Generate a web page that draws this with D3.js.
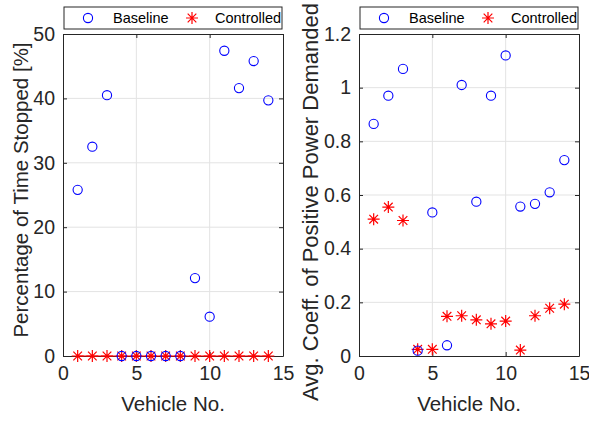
<!DOCTYPE html>
<html>
<head>
<meta charset="utf8">
<script src="https://d3js.org/d3.v7.min.js"></script>
<style>
  body { margin: 0; background: #fff; }
  text { font-family: "Liberation Sans", Arial, sans-serif; fill: #262626; }
  .grid line { stroke: #e3e3e3; stroke-width: 1; }
</style>
</head>
<body>
<svg id="chart" width="589" height="422"></svg>
<script>
var vehicles = [1, 2, 3, 4, 5, 6, 7, 8, 9, 10, 11, 12, 13, 14];

var stoppedBaseline = [25.8, 32.5, 40.5, 0, 0, 0, 0, 0, 12.1, 6.1, 47.4, 41.6, 45.8, 39.7];
var stoppedControlled = [0, 0, 0, 0, 0, 0, 0, 0, 0, 0, 0, 0, 0, 0];

var powerBaseline = [0.865, 0.97, 1.07, 0.02, 0.535, 0.04, 1.01, 0.575, 0.97, 1.12, 0.557, 0.567, 0.61, 0.73];
var powerControlled = [0.51, 0.555, 0.505, 0.025, 0.025, 0.148, 0.15, 0.135, 0.12, 0.13, 0.022, 0.15, 0.178, 0.193];

var xTicks = [0, 5, 10, 15];
var stoppedTicks = [0, 10, 20, 30, 40, 50];
var powerTicks = [0, 0.2, 0.4, 0.6, 0.8, 1, 1.2];

var svg = d3.select('#chart');

function asterisk(g, cx, cy) {
  var r = 6, d = r * 0.72;
  var p = 'M' + (cx - r) + ',' + cy + 'H' + (cx + r) +
    'M' + cx + ',' + (cy - r) + 'V' + (cy + r) +
    'M' + (cx - d) + ',' + (cy - d) + 'L' + (cx + d) + ',' + (cy + d) +
    'M' + (cx - d) + ',' + (cy + d) + 'L' + (cx + d) + ',' + (cy - d);
  g.append('path').attr('d', p).attr('stroke', '#ff0000').attr('stroke-width', 1.2).attr('fill', 'none');
}

function panel(opts) {
  var x = d3.scaleLinear().domain([0, 15]).range([opts.left, opts.right]);
  var y = d3.scaleLinear().domain(opts.yDomain).range([356, 34]);
  var g = svg.append('g');

  // grid
  var grid = g.append('g').attr('class', 'grid');
  grid.selectAll('.gx').data(xTicks.slice(1, -1)).enter().append('line')
    .attr('x1', d => x(d)).attr('x2', d => x(d)).attr('y1', y.range()[0]).attr('y2', y.range()[1]);
  grid.selectAll('.gy').data(opts.yTicks.slice(1, -1)).enter().append('line')
    .attr('y1', d => y(d)).attr('y2', d => y(d)).attr('x1', x.range()[0]).attr('x2', x.range()[1]);

  // axes
  g.append('g').attr('transform', 'translate(0,' + y.range()[0] + ')')
    .call(d3.axisBottom(x).tickValues(xTicks).tickSizeInner(-4).tickSizeOuter(0).tickPadding(10))
    .call(a => a.selectAll('text').style('font-size', '19.5px').attr('dy', '0.71em'));
  g.append('g').attr('transform', 'translate(0,' + y.range()[1] + ')')
    .call(d3.axisTop(x).tickValues(xTicks).tickSizeInner(-4).tickSizeOuter(0).tickFormat(''));
  g.append('g').attr('transform', 'translate(' + x.range()[0] + ',0)')
    .call(d3.axisLeft(y).tickValues(opts.yTicks).tickSizeInner(-4).tickSizeOuter(0).tickPadding(8).tickFormat(d3.format('~g')))
    .call(a => a.selectAll('text').style('font-size', '19.5px'));
  g.append('g').attr('transform', 'translate(' + x.range()[1] + ',0)')
    .call(d3.axisRight(y).tickValues(opts.yTicks).tickSizeInner(-4).tickSizeOuter(0).tickFormat(''));
  g.selectAll('.domain, .tick line').attr('stroke', '#262626');

  // data
  if (opts.line) {
    g.append('line').attr('x1', x(vehicles[0])).attr('x2', x(vehicles[vehicles.length - 1]))
      .attr('y1', y(0)).attr('y2', y(0)).attr('stroke', '#ff0000').attr('stroke-width', 1.2);
  }
  vehicles.forEach((v, i) => asterisk(g, x(v), y(opts.controlled[i])));
  g.selectAll('.base').data(vehicles).enter().append('circle')
    .attr('cx', d => x(d)).attr('cy', (d, i) => y(opts.baseline[i])).attr('r', 4.6)
    .attr('fill', 'none').attr('stroke', '#0000ff').attr('stroke-width', 1.1);

  // labels
  g.append('text').attr('x', (x.range()[0] + x.range()[1]) / 2).attr('y', 411)
    .attr('text-anchor', 'middle').style('font-size', '20.5px').text('Vehicle No.');
  g.append('text').attr('transform', 'translate(' + opts.labelX + ',' + opts.labelY + ') rotate(-90)')
    .attr('text-anchor', 'middle').style('font-size', opts.labelSize).text(opts.yLabel);

  // legend
  var lx = x.range()[0] + 1, lw = x.range()[1] - x.range()[0] - 2;
  var lg = g.append('g');
  lg.append('rect').attr('x', lx).attr('y', 7).attr('width', lw).attr('height', 22)
    .attr('fill', '#fff').attr('stroke', '#262626').attr('stroke-width', 1);
  lg.append('circle').attr('cx', lx + 24).attr('cy', 18).attr('r', 4.6)
    .attr('fill', 'none').attr('stroke', '#0000ff').attr('stroke-width', 1.1);
  lg.append('text').attr('x', lx + 49).attr('y', 23).style('font-size', '14.5px').style('fill', '#000').text('Baseline');
  asterisk(lg, lx + 128, 18);
  lg.append('text').attr('x', lx + 151).attr('y', 23).style('font-size', '14.5px').style('fill', '#000').text('Controlled');
}

panel({
  left: 63, right: 283, yDomain: [0, 50], yTicks: stoppedTicks,
  baseline: stoppedBaseline, controlled: stoppedControlled, line: true,
  yLabel: 'Percentage of Time Stopped [%]', labelX: 28, labelY: 190, labelSize: '20.5px'
});
panel({
  left: 359, right: 579, yDomain: [0, 1.2], yTicks: powerTicks,
  baseline: powerBaseline, controlled: powerControlled, line: false,
  yLabel: 'Avg. Coeff. of Positive Power Demanded', labelX: 318, labelY: 202, labelSize: '22px'
});
</script>
</body>
</html>
